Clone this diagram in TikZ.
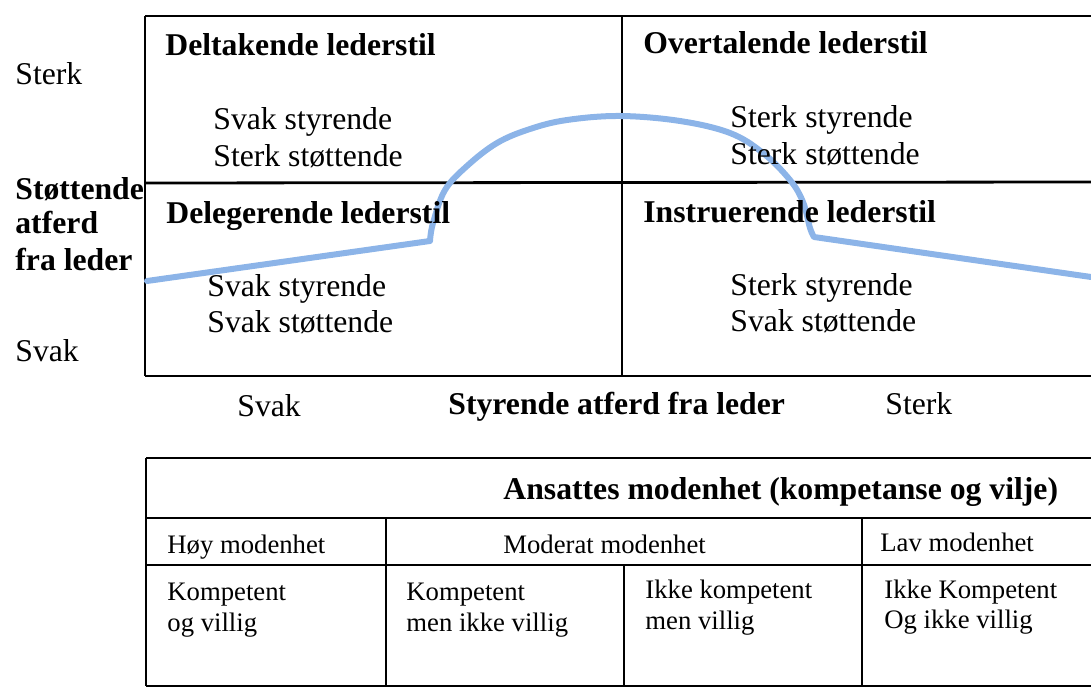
\documentclass[tikz,border=0pt]{standalone}
\usepackage{fontspec}
\setmainfont{Liberation Serif}
\definecolor{kurveblaa}{RGB}{140,180,232}
\tikzset{
  linje/.style={line width=1pt},
  tykk/.style={line width=1.4pt},
  stor/.style={font=\fontsize{15.85}{18}\selectfont, anchor=base west, inner sep=0pt},
  storfet/.style={stor, font=\fontsize{15.85}{18}\selectfont\bfseries},
  liten/.style={font=\fontsize{13.35}{15}\selectfont, anchor=base west, inner sep=0pt},
  kurve/.style={kurveblaa, line width=3pt, line cap=round, line join=round},
}
\begin{document}
\begin{tikzpicture}[x=0.5pt, y=-0.5pt]
\useasboundingbox (0,0) rectangle (1091,689);

% Stilkvadranten
\draw[tykk] (145,16) -- (1091,16);
\draw[tykk] (145,183) -- (1091,182);
\draw[linje] (145,376) -- (1091,376);
\draw[linje] (145,16) -- (145,376);
\draw[linje] (622,16) -- (622,376);

% Modenhetskurven
\draw[kurve] (147,281) -- (430,241)
  -- plot[smooth, tension=0.6] coordinates {(430,241) (433,223) (445,190) (467,166) (497,143) (530,129) (567,120) (620,116) (680,121) (730,133) (763,153) (790,180) (803,202) (810,228) (814,237)}
  -- (1091,277);

% Aksetekster
\node[stor] (sterkY) at (15,85) {Sterk};
\node[storfet] (stotte1) at (15,200) {Støttende};
\node[storfet] (stotte2) at (15,234) {atferd};
\node[storfet] (stotte3) at (15,271) {fra leder};
\node[stor] (svakY) at (15,362) {Svak};
\node[stor] (svakX) at (237,416) {Svak};
\node[storfet] (styrX) at (448,415) {Styrende atferd fra leder};
\node[stor] (sterkX) at (885,414) {Sterk};

% Kvadrantene
\node[storfet] (delta) at (165,56) {Deltakende lederstil};
\node[stor] (delta1) at (213,130) {Svak styrende};
\node[stor] (delta2) at (213,167) {Sterk støttende};
\node[storfet] (over) at (643,54) {Overtalende lederstil};
\node[stor] (over1) at (730,128) {Sterk styrende};
\node[stor] (over2) at (730,165) {Sterk støttende};
\node[storfet] (dele) at (166,224) {Delegerende lederstil};
\node[stor] (dele1) at (207,297) {Svak styrende};
\node[stor] (dele2) at (207,333) {Svak støttende};
\node[storfet] (instr) at (643,223) {Instruerende lederstil};
\node[stor] (instr1) at (730,296) {Sterk styrende};
\node[stor] (instr2) at (730,332) {Svak støttende};

% Modenhetstabellen
\draw[linje] (146,458) -- (1091,458);
\draw[linje] (146,518) -- (1091,518);
\draw[linje] (146,565) -- (1091,565);
\draw[linje] (146,686) -- (1091,686);
\draw[linje] (146,458) -- (146,686);
\draw[linje] (386,518) -- (386,686);
\draw[linje] (624,565) -- (624,686);
\draw[linje] (862,518) -- (862,686);

\node[storfet] (ansatt) at (503,499) {Ansattes modenhet (kompetanse og vilje)};
\node[liten] (hoy) at (167,553) {Høy modenhet};
\node[liten] (mod) at (503,553) {Moderat modenhet};
\node[liten] (lav) at (880,551) {Lav modenhet};
\node[liten] (k1a) at (167,600) {Kompetent};
\node[liten] (k1b) at (167,631) {og villig};
\node[liten] (k2a) at (406,600) {Kompetent};
\node[liten] (k2b) at (406,631) {men ikke villig};
\node[liten] (k3a) at (645,598) {Ikke kompetent};
\node[liten] (k3b) at (645,629) {men villig};
\node[liten] (k4a) at (884,598) {Ikke Kompetent};
\node[liten] (k4b) at (884,628) {Og ikke villig};

\end{tikzpicture}
\end{document}
